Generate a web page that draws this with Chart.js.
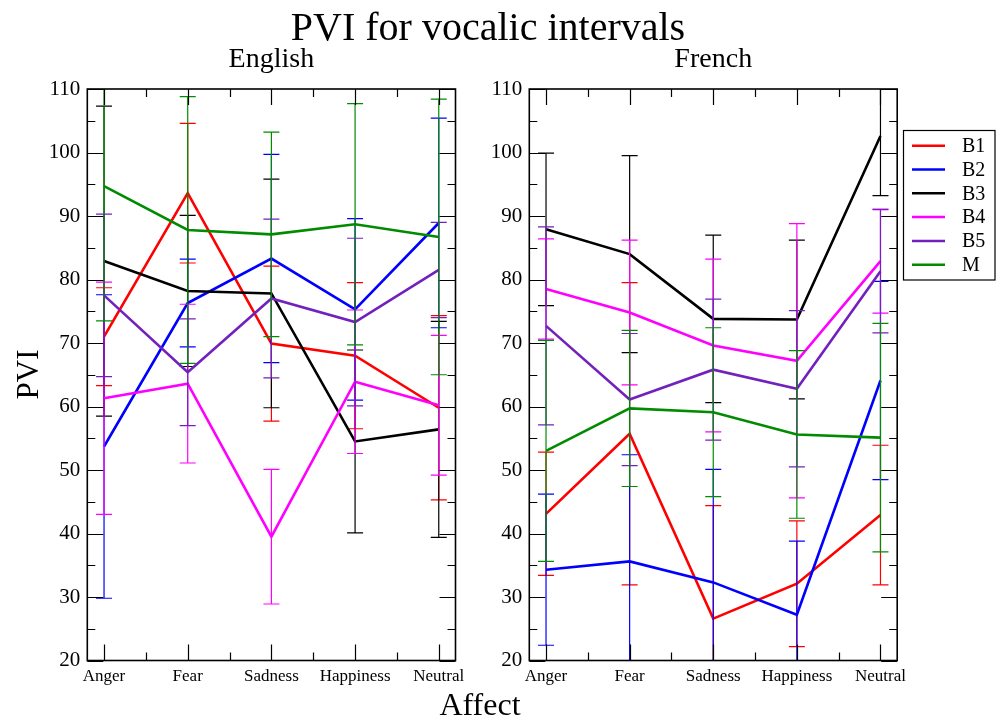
<!DOCTYPE html>
<html><head><meta charset="utf-8">
<script src="https://cdn.jsdelivr.net/npm/chart.js@4.4.1/dist/chart.umd.min.js"></script>
<style>
html,body{margin:0;padding:0;background:#fff;}
#wrap{position:relative;width:996px;height:718px;overflow:hidden;background:#fff;}
canvas{position:absolute;left:0;top:0;}
</style></head><body>
<div id="wrap">
<canvas id="c1" width="996" height="718"></canvas>
<canvas id="c2" width="996" height="718"></canvas>
</div>
<script>
const categories = ['Anger', 'Fear', 'Sadness', 'Happiness', 'Neutral'];
const seriesNames = ['B1', 'B2', 'B3', 'B4', 'B5', 'M'];
const seriesColors = ['#ff0000', '#0000ff', '#000000', '#ff00ff', '#7221bc', '#008b00'];
const yTicks = [20, 30, 40, 50, 60, 70, 80, 90, 100, 110];
const yMinorTicks = [25, 35, 45, 55, 65, 75, 85, 95, 105];
const xMinorTicks = [1.5, 2.5, 3.5, 4.5];

// English means
const engB1 = [71.0, 93.6, 69.9, 68.0, 59.8];
const engB2 = [53.7, 76.3, 83.3, 75.3, 88.9];
const engB3 = [82.9, 78.2, 77.8, 54.5, 56.4];
const engB4 = [61.3, 63.6, 39.5, 63.9, 60.2];
const engB5 = [77.5, 65.4, 77.0, 73.3, 81.5];
const engM  = [94.7, 87.8, 87.1, 88.7, 86.7];
// English standard deviations (error bars)
const engB1Err = [7.7, 11.0, 12.2, 11.5, 14.5];
const engB2Err = [23.9, 6.9, 16.4, 14.3, 16.5];
const engB3Err = [24.4, 11.9, 18.0, 14.4, 17.0];
const engB4Err = [18.3, 12.5, 10.6, 11.3, 11.0];
const engB5Err = [12.8, 8.4, 12.5, 13.2, 7.5];
const engMErr  = [21.2, 21.0, 16.1, 19.0, 21.7];

// French means
const frB1 = [43.1, 55.7, 26.6, 32.1, 42.9];
const frB2 = [34.3, 35.6, 32.3, 27.2, 64.1];
const frB3 = [87.9, 84.0, 73.8, 73.7, 102.6];
const frB4 = [78.5, 74.8, 69.6, 67.2, 82.9];
const frB5 = [72.7, 61.1, 65.8, 62.8, 81.3];
const frM  = [53.0, 59.7, 59.1, 55.6, 55.1];
// French standard deviations
const frB1Err = [9.7, 23.8, 17.8, 9.9, 11.0];
const frB2Err = [11.9, 16.8, 17.8, 11.6, 15.6];
const frB3Err = [12.0, 15.5, 13.2, 12.5, 9.4];
const frB4Err = [7.9, 11.4, 13.6, 21.6, 8.2];
const frB5Err = [15.6, 10.4, 11.1, 12.3, 9.7];
const frMErr  = [17.4, 12.3, 13.3, 13.2, 18.0];

const engMeans = [engB1, engB2, engB3, engB4, engB5, engM];
const engErrs = [engB1Err, engB2Err, engB3Err, engB4Err, engB5Err, engMErr];
const frMeans = [frB1, frB2, frB3, frB4, frB5, frM];
const frErrs = [frB1Err, frB2Err, frB3Err, frB4Err, frB5Err, frMErr];

const SERIF = "'Liberation Serif', 'DejaVu Serif', serif";

function buildDatasets(means, errs) {
  return seriesNames.map((name, s) => ({
    label: name,
    data: means[s].map((v, i) => ({ x: i + 1, y: v })),
    errors: errs[s],
    borderColor: seriesColors[s],
    backgroundColor: seriesColors[s],
    borderWidth: 2.6,
    pointRadius: 0,
    pointHoverRadius: 0,
    tension: 0,
    fill: false,
    order: seriesNames.length - s
  }));
}

const errorBarPlugin = {
  id: 'errorBars',
  afterDatasetDraw(chart, args) {
    const ds = chart.data.datasets[args.index];
    const xs = chart.scales.x, ys = chart.scales.y, a = chart.chartArea;
    const ctx = chart.ctx;
    ctx.save();
    ctx.beginPath();
    ctx.rect(a.left, a.top, a.right - a.left, a.bottom - a.top);
    ctx.clip();
    ctx.strokeStyle = ds.borderColor;
    ctx.lineWidth = 1.2;
    ds.data.forEach((p, i) => {
      const e = ds.errors[i];
      const x = xs.getPixelForValue(p.x);
      const yHi = ys.getPixelForValue(p.y + e);
      const yLo = ys.getPixelForValue(p.y - e);
      ctx.beginPath();
      ctx.moveTo(x, yHi); ctx.lineTo(x, yLo);
      ctx.moveTo(x - 8, yHi); ctx.lineTo(x + 8, yHi);
      ctx.moveTo(x - 8, yLo); ctx.lineTo(x + 8, yLo);
      ctx.stroke();
    });
    ctx.restore();
  }
};

const framePlugin = {
  id: 'frameTicks',
  afterDraw(chart) {
    const xs = chart.scales.x, ys = chart.scales.y, a = chart.chartArea;
    const ctx = chart.ctx;
    ctx.save();
    ctx.strokeStyle = '#000';
    ctx.lineWidth = 1.2;
    ctx.beginPath();
    yTicks.forEach(v => {
      const y = Math.round(ys.getPixelForValue(v)) + 0.5;
      ctx.moveTo(a.left, y); ctx.lineTo(a.left + 16, y);
      ctx.moveTo(a.right, y); ctx.lineTo(a.right - 16, y);
    });
    yMinorTicks.forEach(v => {
      const y = Math.round(ys.getPixelForValue(v)) + 0.5;
      ctx.moveTo(a.left, y); ctx.lineTo(a.left + 8, y);
      ctx.moveTo(a.right, y); ctx.lineTo(a.right - 8, y);
    });
    categories.forEach((c, i) => {
      const x = Math.round(xs.getPixelForValue(i + 1)) + 0.5;
      ctx.moveTo(x, a.bottom); ctx.lineTo(x, a.bottom - 16);
      ctx.moveTo(x, a.top); ctx.lineTo(x, a.top + 16);
    });
    xMinorTicks.forEach(v => {
      const x = Math.round(xs.getPixelForValue(v)) + 0.5;
      ctx.moveTo(x, a.bottom); ctx.lineTo(x, a.bottom - 8);
      ctx.moveTo(x, a.top); ctx.lineTo(x, a.top + 8);
    });
    ctx.stroke();
    ctx.lineWidth = 1.6;
    ctx.strokeRect(a.left, a.top, a.right - a.left, a.bottom - a.top);
    // panel subtitle
    ctx.fillStyle = '#000';
    ctx.font = '28px ' + SERIF;
    ctx.textAlign = 'center';
    ctx.textBaseline = 'alphabetic';
    ctx.fillText(chart.options.plugins.frameTicks.subtitle, (a.left + a.right) / 2, 67);
    ctx.restore();
  }
};

const textPlugin = {
  id: 'pageText',
  afterDraw(chart) {
    const ctx = chart.ctx;
    ctx.save();
    ctx.fillStyle = '#000';
    ctx.textAlign = 'center';
    ctx.textBaseline = 'alphabetic';
    ctx.font = '40px ' + SERIF;
    ctx.fillText('PVI for vocalic intervals', 488, 40);
    ctx.font = '32px ' + SERIF;
    ctx.fillText('Affect', 480, 715);
    ctx.save();
    ctx.translate(38, 374.5);
    ctx.rotate(-Math.PI / 2);
    ctx.font = '31px ' + SERIF;
    ctx.fillText('PVI', 0, 0);
    ctx.restore();
    // legend box
    ctx.strokeStyle = '#000';
    ctx.lineWidth = 1.2;
    ctx.strokeRect(903.5, 130.5, 91.5, 149.5);
    ctx.textAlign = 'left';
    ctx.textBaseline = 'middle';
    ctx.font = '20px ' + SERIF;
    chart.data.datasets.forEach((ds, i) => {
      const y = 145.7 + i * 23.8;
      ctx.strokeStyle = ds.borderColor;
      ctx.lineWidth = 2.5;
      ctx.beginPath();
      ctx.moveTo(912, y); ctx.lineTo(945, y);
      ctx.stroke();
      ctx.fillStyle = '#000';
      ctx.fillText(ds.label, 962, y + 1);
    });
    ctx.restore();
  }
};

function makeOptions(padLeft, yWidth, padRight, subtitle) {
  return {
    responsive: false,
    animation: false,
    layout: { padding: { left: padLeft, right: padRight, top: 89, bottom: 17.5 } },
    plugins: { legend: { display: false }, tooltip: { enabled: false }, title: { display: false },
               frameTicks: { subtitle: subtitle } },
    scales: {
      x: {
        type: 'linear', min: 0.8, max: 5.2,
        grid: { display: false, drawTicks: false }, border: { display: false },
        afterBuildTicks: s => { s.ticks = categories.map((c, i) => ({ value: i + 1 })); },
        ticks: { callback: v => categories[Math.round(v) - 1], autoSkip: false, maxRotation: 0,
                 font: { family: SERIF, size: 17 }, color: '#000', padding: 6 },
        afterFit: s => { s.height = 40; s.paddingLeft = 0; s.paddingRight = 0; }
      },
      y: {
        type: 'linear', min: 20, max: 110,
        grid: { display: false, drawTicks: false }, border: { display: false },
        afterBuildTicks: s => { s.ticks = yTicks.map(v => ({ value: v })); },
        ticks: { font: { family: SERIF, size: 21 }, color: '#000', padding: 7 },
        afterFit: s => { s.width = yWidth; s.paddingTop = 0; s.paddingBottom = 0; }
      }
    }
  };
}

new Chart(document.getElementById('c1'), {
  type: 'line',
  data: { datasets: buildDatasets(engMeans, engErrs) },
  options: makeOptions(0, 87.3, 996 - 455.5, 'English'),
  plugins: [errorBarPlugin, framePlugin]
});

new Chart(document.getElementById('c2'), {
  type: 'line',
  data: { datasets: buildDatasets(frMeans, frErrs) },
  options: makeOptions(440, 89.3, 996 - 897.2, 'French'),
  plugins: [errorBarPlugin, framePlugin, textPlugin]
});
</script>
</body></html>
